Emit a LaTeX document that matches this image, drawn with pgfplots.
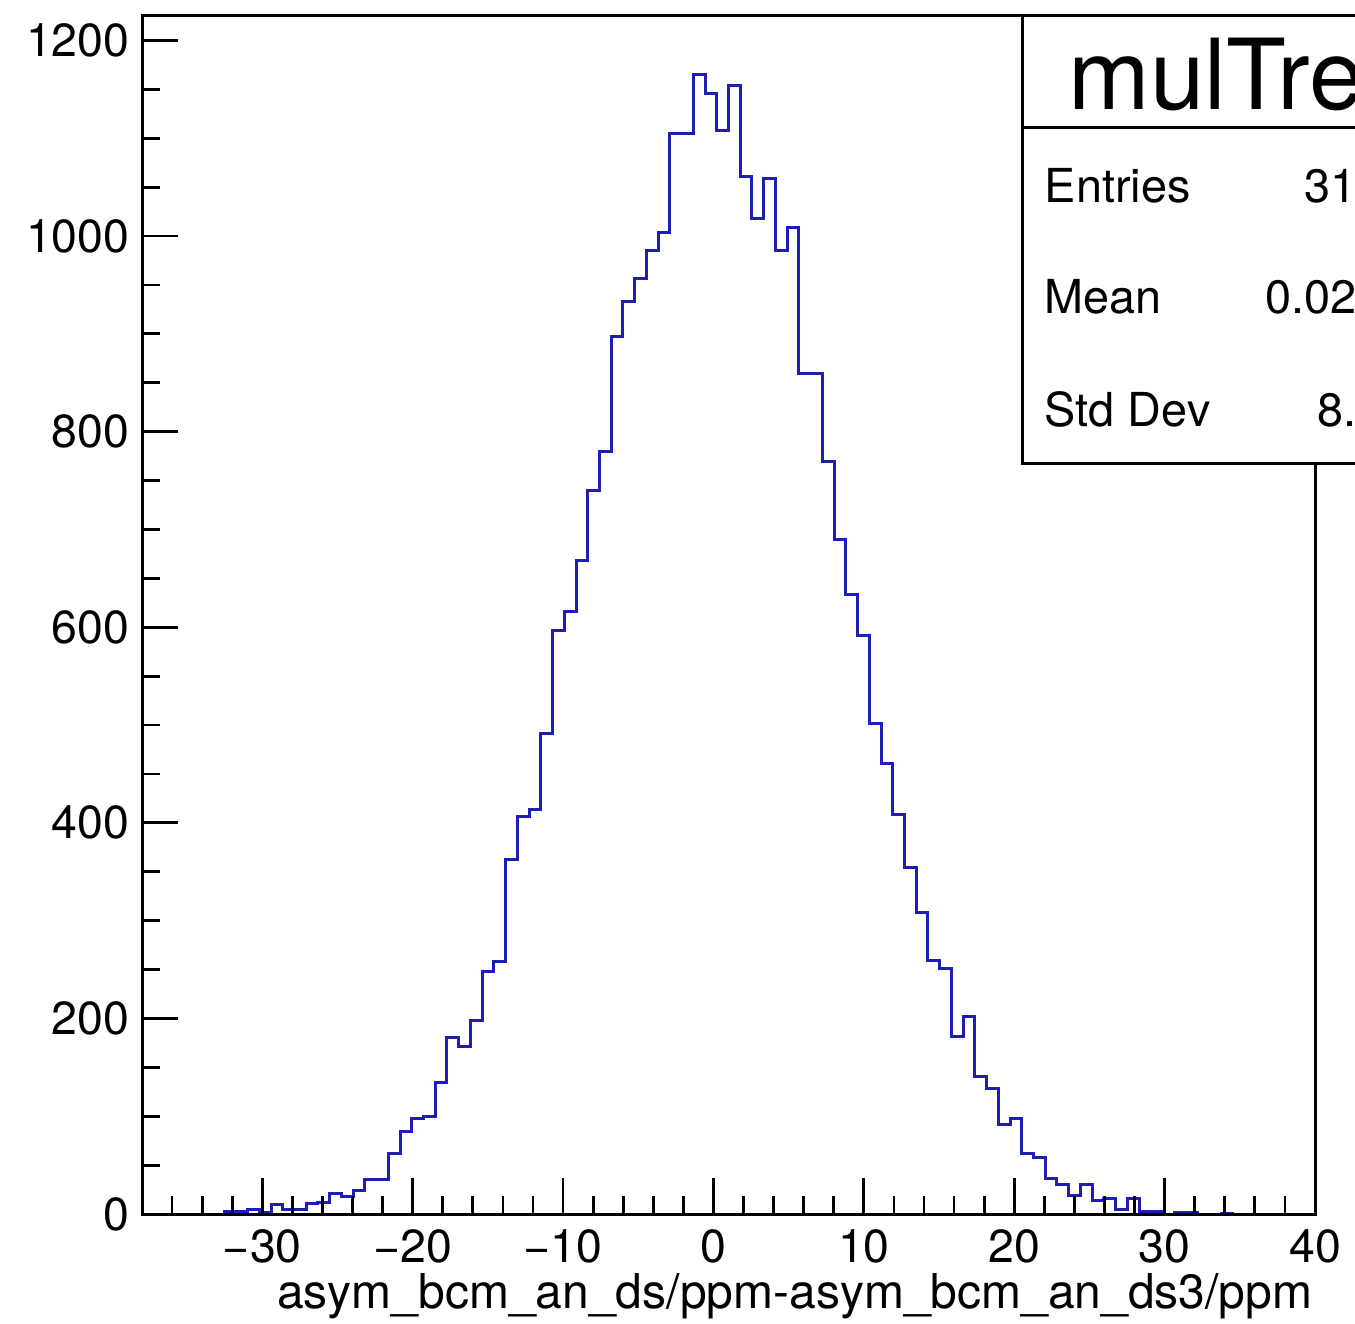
\documentclass[border=0pt]{standalone}
\usepackage{fontspec}
\setmainfont{TeX Gyre Heros}
\usepackage{pgfplots}
\usepackage{pgfplotstable}
\pgfplotsset{compat=1.18}
\definecolor{histblue}{RGB}{30,30,180}

\pgfplotstableread{
x y
-38.00 0
-37.22 0
-36.44 0
-35.66 0
-34.88 0
-34.10 0
-33.32 0
-32.54 3
-31.76 3
-30.98 5
-30.20 2
-29.42 10
-28.64 5
-27.86 5
-27.08 11
-26.30 12
-25.52 21
-24.74 18
-23.96 24
-23.18 35
-22.40 35
-21.62 62
-20.84 84
-20.06 98
-19.28 100
-18.50 134
-17.72 180
-16.94 171
-16.16 198
-15.38 248
-14.60 258
-13.82 362
-13.04 406
-12.26 414
-11.48 491
-10.70 597
-9.92 616
-9.14 668
-8.36 740
-7.58 780
-6.80 897
-6.02 933
-5.24 957
-4.46 985
-3.68 1004
-2.90 1105
-2.12 1105
-1.34 1165
-0.56 1146
0.22 1108
1.00 1154
1.78 1061
2.56 1018
3.34 1059
4.12 985
4.90 1009
5.68 859
6.46 859
7.24 769
8.02 690
8.80 633
9.58 592
10.36 502
11.14 461
11.92 408
12.70 354
13.48 308
14.26 259
15.04 251
15.82 182
16.60 202
17.38 141
18.16 128
18.94 92
19.72 98
20.50 62
21.28 58
22.06 36
22.84 30
23.62 19
24.40 30
25.18 14
25.96 16
26.74 5
27.52 16
28.30 3
29.08 3
29.86 0
30.64 2
31.42 2
32.20 0
32.98 0
33.76 1
34.54 0
40.00 0
}\histdata

\begin{document}
\begin{tikzpicture}
\begin{axis}[
  at={(0,0)}, anchor=south west,
  scale only axis,
  width=293.25pt, height=299.5pt,
  xmin=-38, xmax=40, ymin=0, ymax=1225,
  axis on top,
  tick pos=left,
  tick align=inside,
  xtick={-30,-20,-10,0,10,20,30,40},
  xticklabels={−30,−20,−10,0,10,20,30,40},
  minor xtick={-36,-34,...,38},
  ytick={0,200,400,600,800,1000,1200},
  yticklabels={0,200,400,600,800,1000,1200},
  minor ytick={50,100,...,1150},
  major tick length=9pt,
  minor tick length=4.5pt,
  every tick/.style={black, line width=0.7pt},
  axis line style={black, line width=0.75pt},
  xticklabel style={font=\fontsize{11.6}{13}\selectfont, anchor=base, inner sep=0pt, yshift=-12pt},
  yticklabel style={font=\fontsize{11.6}{13}\selectfont, anchor=east, inner sep=0pt, xshift=-3pt},
]
\addplot[const plot, color=histblue, line width=0.75pt, mark=none] table[x=x, y=y] {\histdata};
\end{axis}
% x-axis title, right aligned
\node[anchor=base east, inner sep=0pt, font=\fontsize{12}{14}\selectfont] at (292.75pt,-23.5pt) {asym\_bcm\_an\_ds/ppm-asym\_bcm\_an\_ds3/ppm};
% statistics box
\fill[white] (220pt,187.5pt) rectangle (327pt,299.5pt);
\draw[black, line width=0.75pt] (220pt,187.5pt) rectangle (327pt,299.5pt);
\draw[black, line width=0.75pt] (220pt,271.5pt) -- (327pt,271.5pt);
\node[anchor=base west, inner sep=0pt, font=\fontsize{24.5}{27}\selectfont] at (231.5pt,276pt) {mulTree};
\node[anchor=base west, inner sep=0pt, font=\fontsize{11.7}{14}\selectfont] at (225.5pt,252.75pt) {Entries};
\node[anchor=base west, inner sep=0pt, font=\fontsize{11.7}{14}\selectfont] at (225.5pt,225pt) {Mean};
\node[anchor=base west, inner sep=0pt, font=\fontsize{11.7}{14}\selectfont] at (225.5pt,196.75pt) {Std Dev};
\node[anchor=base east, inner sep=0pt, font=\fontsize{11.7}{14}\selectfont] at (323.25pt,252.75pt) {31572};
\node[anchor=base east, inner sep=0pt, font=\fontsize{11.7}{14}\selectfont] at (323.25pt,225pt) {0.02134};
\node[anchor=base east, inner sep=0pt, font=\fontsize{11.7}{14}\selectfont] at (323.25pt,196.75pt) {8.543};
\pgfresetboundingbox
\useasboundingbox (-35.5pt,-27.25pt) rectangle (303.25pt,303.5pt);
\end{tikzpicture}
\end{document}
